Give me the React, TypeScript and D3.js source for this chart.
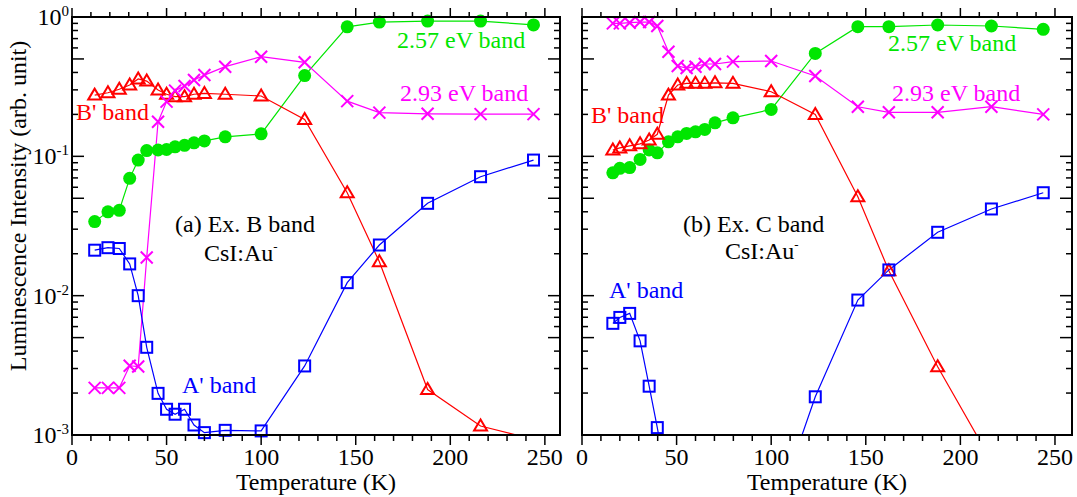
import React from "react";
import * as d3 from "d3";

// panel (a): Ex. B band
const tempsA = [12, 19, 25, 30.5, 35, 39.5, 45.5, 50, 54.5, 59.5, 64.5, 70, 81, 100, 123, 145.5, 162.5, 188, 216, 244];
const greenA = [0.034, 0.04, 0.041, 0.0695, 0.094, 0.11, 0.111, 0.112, 0.117, 0.12, 0.125, 0.129, 0.138, 0.145, 0.38, 0.85, 0.92, 0.935, 0.935, 0.877];
const redA = [0.275, 0.286, 0.303, 0.325, 0.359, 0.347, 0.299, 0.279, 0.268, 0.268, 0.279, 0.283, 0.279, 0.271, 0.184, 0.0548, 0.0175, 0.00212, 0.00116, 0.00093];
const magentaA = [0.00218, 0.00218, 0.00218, 0.00314, 0.0031, 0.0188, 0.177, 0.247, 0.296, 0.32, 0.353, 0.383, 0.44, 0.519, 0.473, 0.249, 0.206, 0.202, 0.201, 0.201];
const blueA = [0.0212, 0.0221, 0.0218, 0.0169, 0.01, 0.00426, 0.00199, 0.00153, 0.00141, 0.00153, 0.00118, 0.00104, 0.00108, 0.00107, 0.00313, 0.0124, 0.0231, 0.046, 0.0714, 0.094];

// panel (b): Ex. C band
const tempsB = [16.3, 20, 25.2, 30.7, 35.5, 39.8, 45.7, 50.6, 55.3, 60, 64.9, 70.3, 79.8, 100, 123.3, 145.8, 162.2, 188, 216.4, 243.8];
const greenB = [0.0762, 0.082, 0.083, 0.095, 0.111, 0.106, 0.127, 0.138, 0.146, 0.15, 0.156, 0.174, 0.189, 0.217, 0.548, 0.852, 0.852, 0.876, 0.862, 0.816];
const redB = [0.111, 0.115, 0.119, 0.123, 0.131, 0.144, 0.275, 0.325, 0.334, 0.334, 0.334, 0.337, 0.334, 0.291, 0.2, 0.0513, 0.0151, 0.00309, 0.00065, null];
const magentaB = [0.9, 0.9, 0.91, 0.92, 0.92, 0.862, 0.563, 0.445, 0.43, 0.44, 0.46, 0.46, 0.478, 0.483, 0.377, 0.227, 0.207, 0.207, 0.227, 0.2];
const blueB = [0.00633, 0.00698, 0.00746, 0.00474, 0.00224, 0.00113, 0.0004, null, null, null, null, null, null, 0.00023, 0.00188, 0.0093, 0.0153, 0.0285, 0.0419, 0.0548];

const xTicks = [0, 50, 100, 150, 200, 250];
const yDecades = [-3, -2, -1, 0];

const GREEN = "#00e600";
const RED = "#ff0000";
const MAGENTA = "#ff00ff";
const BLUE = "#0000ff";
const FONT = "'Liberation Serif', 'Times New Roman', serif";
const FS = 24;

const TOP = 17;
const BOTTOM = 435;

type Label = { text: string; x: number; y: number; color: string; sup?: string };

const panels = [
  {
    id: "a",
    left: 72,
    right: 560,
    xMax: 258,
    temps: tempsA,
    series: { green: greenA, red: redA, magenta: magentaA, blue: blueA },
    labels: [
      { text: "B' band", x: 76, y: 120, color: RED },
      { text: "2.57 eV band", x: 397, y: 48, color: GREEN },
      { text: "2.93 eV band", x: 400, y: 101, color: MAGENTA },
      { text: "(a) Ex. B band", x: 175, y: 232, color: "#000" },
      { text: "CsI:Au", x: 204, y: 261, color: "#000", sup: "-" },
      { text: "A' band", x: 182, y: 393, color: BLUE },
    ] as Label[],
    yLabels: true,
  },
  {
    id: "b",
    left: 582,
    right: 1072,
    xMax: 259,
    temps: tempsB,
    series: { green: greenB, red: redB, magenta: magentaB, blue: blueB },
    labels: [
      { text: "B' band", x: 591, y: 123, color: RED },
      { text: "2.57 eV band", x: 888, y: 51, color: GREEN },
      { text: "2.93 eV band", x: 892, y: 101, color: MAGENTA },
      { text: "(b) Ex. C band", x: 683, y: 232, color: "#000" },
      { text: "CsI:Au", x: 725, y: 259, color: "#000", sup: "-" },
      { text: "A' band", x: 609, y: 298, color: BLUE },
    ] as Label[],
    yLabels: false,
  },
];

function Marker({ kind, x, y }: { kind: string; x: number; y: number }) {
  if (kind === "green") return <circle cx={x} cy={y} r={6.5} fill={GREEN} />;
  if (kind === "red")
    return (
      <polygon
        points={`${x},${y - 6.5} ${x - 6.5},${y + 4.5} ${x + 6.5},${y + 4.5}`}
        fill="none"
        stroke={RED}
        strokeWidth={2}
      />
    );
  if (kind === "blue")
    return <rect x={x - 5.5} y={y - 5.5} width={11} height={11} fill="none" stroke={BLUE} strokeWidth={2} />;
  return (
    <path d={`M${x - 6},${y - 6}L${x + 6},${y + 6}M${x - 6},${y + 6}L${x + 6},${y - 6}`} stroke={MAGENTA} strokeWidth={2} />
  );
}

const colors: Record<string, string> = { green: GREEN, red: RED, magenta: MAGENTA, blue: BLUE };

function Panel({ p }: { p: (typeof panels)[number] }) {
  const x = d3.scaleLinear().domain([0, p.xMax]).range([p.left, p.right]);
  const y = d3.scaleLog().domain([1e-3, 1]).range([BOTTOM, TOP]);

  const minorX = d3.range(0, p.xMax + 0.1, 10);
  const yTicks: { v: number; long: boolean }[] = [];
  yDecades.forEach((d) => {
    for (let m = 1; m <= 9; m++) {
      const v = m * Math.pow(10, d);
      if (v <= 1.0001) yTicks.push({ v, long: m === 1 || m === 5 });
    }
  });

  const lineGen = d3
    .line<[number, number | null]>()
    .defined((d) => d[1] != null)
    .x((d) => x(d[0]))
    .y((d) => y(d[1] as number));

  const order = ["green", "red", "magenta", "blue"];

  return (
    <g>
      <defs>
        <clipPath id={`clip-${p.id}`}>
          <rect x={p.left} y={TOP} width={p.right - p.left} height={BOTTOM - TOP} />
        </clipPath>
      </defs>

      {/* lines */}
      <g clipPath={`url(#clip-${p.id})`}>
        {order.map((k) => {
          const vals = (p.series as any)[k] as (number | null)[];
          const pts = p.temps.map((t, i) => [t, vals[i]] as [number, number | null]);
          return <path key={k} d={lineGen(pts) || ""} fill="none" stroke={colors[k]} strokeWidth={1.2} />;
        })}
      </g>

      {/* markers */}
      {order.map((k) => {
        const vals = (p.series as any)[k] as (number | null)[];
        return (
          <g key={k}>
            {p.temps.map((t, i) => {
              const v = vals[i];
              if (v == null || v < 9.5e-4 || v > 1) return null;
              return <Marker key={i} kind={k} x={x(t)} y={y(v)} />;
            })}
          </g>
        );
      })}

      {/* frame */}
      <rect x={p.left} y={TOP} width={p.right - p.left} height={BOTTOM - TOP} fill="none" stroke="#000" strokeWidth={2} />

      {/* x ticks (outward, top and bottom) */}
      {minorX.map((t) => {
        const major = t % 50 === 0;
        return (
          <g key={t} stroke="#000" strokeWidth={1.5}>
            <line x1={x(t)} x2={x(t)} y1={BOTTOM} y2={BOTTOM + (major ? 10 : 6)} />
            <line x1={x(t)} x2={x(t)} y1={TOP} y2={TOP - (major ? 9 : 5)} />
          </g>
        );
      })}
      {xTicks.map((t) => (
        <text key={t} x={x(t)} y={465} textAnchor="middle" fontSize={FS} fontFamily={FONT}>
          {t}
        </text>
      ))}

      {/* y ticks (inward, left and right) */}
      {yTicks.map(({ v, long }) => {
        const len = long ? 12 : 6;
        return (
          <g key={v} stroke="#000" strokeWidth={1.5}>
            <line x1={p.left} x2={p.left + len} y1={y(v)} y2={y(v)} />
            <line x1={p.right} x2={p.right - len} y1={y(v)} y2={y(v)} />
          </g>
        );
      })}
      {p.yLabels &&
        yDecades.map((d) => (
          <text key={d} x={69} y={y(Math.pow(10, d)) + 8} textAnchor="end" fontSize={FS} fontFamily={FONT}>
            10
            <tspan dy={-9} fontSize={15}>
              {d}
            </tspan>
          </text>
        ))}

      <text x={(p.left + p.right) / 2} y={490} textAnchor="middle" fontSize={FS} fontFamily={FONT}>
        Temperature (K)
      </text>

      {p.labels.map((l, i) => (
        <text key={i} x={l.x} y={l.y} fill={l.color} fontSize={FS} fontFamily={FONT}>
          {l.text}
          {l.sup && (
            <tspan dy={-10} fontSize={13}>
              {l.sup}
            </tspan>
          )}
        </text>
      ))}
    </g>
  );
}

export default function App() {
  return (
    <svg width={1077} height={497} style={{ position: "absolute", left: 0, top: 0, background: "#fff" }}>
      <rect width={1077} height={497} fill="#fff" />
      {panels.map((p) => (
        <Panel key={p.id} p={p} />
      ))}
      <text transform="translate(26,206) rotate(-90)" textAnchor="middle" fontSize={FS} fontFamily={FONT}>
        Luminescence Intensity (arb. unit)
      </text>
    </svg>
  );
}
